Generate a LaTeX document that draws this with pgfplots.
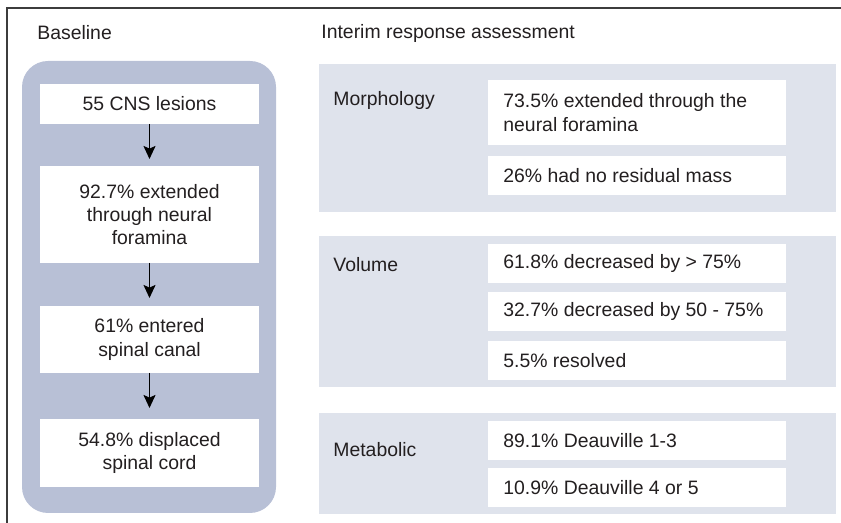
\documentclass[border=0pt]{standalone}
\usepackage{fontspec}
\setmainfont{Liberation Sans}
\usepackage{pgfplots}
\pgfplotsset{compat=1.18}
\usetikzlibrary{arrows.meta}
\definecolor{leftpanel}{RGB}{184,192,214}
\definecolor{rightpanel}{RGB}{223,227,236}
\definecolor{txt}{RGB}{35,31,32}
\definecolor{framec}{RGB}{60,60,60}
\begin{document}
\begin{tikzpicture}[font=\fontsize{9.7}{11.7}\selectfont]
\begin{axis}[hide axis, scale only axis, x=0.5pt, y=0.5pt,
  xmin=0, xmax=841, ymin=-523, ymax=0, clip=false, anchor=south west, at={(0,0)}]
% frame
\draw[framec, line width=0.8pt, line cap=butt] (axis cs:7,-523) -- (axis cs:7,-8) -- (axis cs:841,-8);
% headers
\node[anchor=west, text=txt, inner sep=0pt] at (axis cs:37,-33) {Baseline};
\node[anchor=west, text=txt, inner sep=0pt] at (axis cs:321,-33) {Interim response assessment};
% left panel
\fill[leftpanel, rounded corners=13pt] (axis cs:22,-61) rectangle (axis cs:276,-513);
\fill[white] (axis cs:40,-84) rectangle (axis cs:259,-124);
\fill[white] (axis cs:40,-166) rectangle (axis cs:259,-263);
\fill[white] (axis cs:40,-306) rectangle (axis cs:259,-373);
\fill[white] (axis cs:40,-419) rectangle (axis cs:259,-487);
\node[text=txt, align=center, inner sep=0pt] at (axis cs:149.5,-104) {55 CNS lesions};
\node[text=txt, align=center, inner sep=0pt] at (axis cs:149.5,-214.5) {92.7\% extended\\through neural\\foramina};
\node[text=txt, align=center, inner sep=0pt] at (axis cs:149.5,-339.5) {61\% entered\\spinal canal};
\node[text=txt, align=center, inner sep=0pt] at (axis cs:149.5,-453) {54.8\% displaced\\spinal cord};
\draw[black, line width=0.85pt, -{Stealth[length=6.5pt, width=6pt, inset=1.3pt]}] (axis cs:149.5,-124) -- (axis cs:149.5,-159);
\draw[black, line width=0.85pt, -{Stealth[length=6.5pt, width=6pt, inset=1.3pt]}] (axis cs:149.5,-263) -- (axis cs:149.5,-298);
\draw[black, line width=0.85pt, -{Stealth[length=6.5pt, width=6pt, inset=1.3pt]}] (axis cs:149.5,-373) -- (axis cs:149.5,-408);
% right panels
\fill[rightpanel] (axis cs:319,-64) rectangle (axis cs:836,-212);
\fill[rightpanel] (axis cs:319,-236) rectangle (axis cs:836,-387);
\fill[rightpanel] (axis cs:319,-413) rectangle (axis cs:836,-514);
% morphology
\fill[white] (axis cs:488,-80) rectangle (axis cs:786,-145);
\fill[white] (axis cs:488,-156) rectangle (axis cs:786,-195);
\node[anchor=west, text=txt, inner sep=0pt] at (axis cs:333,-100) {Morphology};
\node[anchor=west, align=left, text=txt, inner sep=0pt] at (axis cs:503,-112.5) {73.5\% extended through the\\neural foramina};
\node[anchor=west, text=txt, inner sep=0pt] at (axis cs:503,-175.5) {26\% had no residual mass};
% volume
\fill[white] (axis cs:488,-244) rectangle (axis cs:786,-283);
\fill[white] (axis cs:488,-292) rectangle (axis cs:786,-331);
\fill[white] (axis cs:488,-341) rectangle (axis cs:786,-380);
\node[anchor=west, text=txt, inner sep=0pt] at (axis cs:333,-265) {Volume};
\node[anchor=west, text=txt, inner sep=0pt] at (axis cs:503,-263.5) {61.8\% decreased by > 75\%};
\node[anchor=west, text=txt, inner sep=0pt] at (axis cs:503,-311.5) {32.7\% decreased by 50 - 75\%};
\node[anchor=west, text=txt, inner sep=0pt] at (axis cs:503,-360.5) {5.5\% resolved};
% metabolic
\fill[white] (axis cs:488,-421) rectangle (axis cs:786,-460);
\fill[white] (axis cs:488,-468) rectangle (axis cs:786,-507);
\node[anchor=west, text=txt, inner sep=0pt] at (axis cs:333,-450) {Metabolic};
\node[anchor=west, text=txt, inner sep=0pt] at (axis cs:503,-440.5) {89.1\% Deauville 1-3};
\node[anchor=west, text=txt, inner sep=0pt] at (axis cs:503,-487.5) {10.9\% Deauville 4 or 5};
\end{axis}
\pgfresetboundingbox
\path (0,0) rectangle (420.5pt,261.5pt);
\end{tikzpicture}
\end{document}
